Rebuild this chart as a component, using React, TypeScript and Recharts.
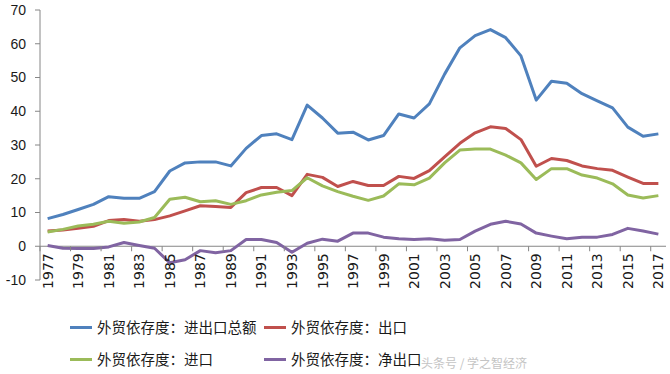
import React from "react";
import { LineChart, Line, XAxis, YAxis, ReferenceLine } from "recharts";

// years 1977-2017
const years = [
  "1977", "1978", "1979", "1980", "1981", "1982", "1983", "1984", "1985", "1986",
  "1987", "1988", "1989", "1990", "1991", "1992", "1993", "1994", "1995", "1996",
  "1997", "1998", "1999", "2000", "2001", "2002", "2003", "2004", "2005", "2006",
  "2007", "2008", "2009", "2010", "2011", "2012", "2013", "2014", "2015", "2016", "2017",
];

const totalTrade = [
  8.2, 9.4, 10.9, 12.4, 14.7, 14.2, 14.2, 16.2, 22.3, 24.7,
  25.0, 25.0, 23.8, 29.0, 32.8, 33.3, 31.6, 41.8, 38.0, 33.5,
  33.8, 31.5, 32.8, 39.2, 38.0, 42.2, 51.0, 58.8, 62.4, 64.2,
  61.8, 56.4, 43.3, 48.9, 48.3, 45.2, 43.1, 41.0, 35.3, 32.6, 33.3,
];

const exportsRatio = [
  4.5, 4.8, 5.3, 5.9, 7.6, 7.9, 7.4, 7.9, 9.0, 10.5,
  12.0, 11.8, 11.5, 15.9, 17.4, 17.4, 15.0, 21.3, 20.4, 17.7,
  19.2, 18.0, 18.0, 20.7, 20.1, 22.4, 26.5, 30.5, 33.6, 35.4,
  34.9, 31.6, 23.7, 26.0, 25.4, 23.8, 23.0, 22.5, 20.5, 18.6, 18.6,
];

const importsRatio = [
  4.2, 5.0, 6.0, 6.5, 7.4, 6.8, 7.2, 8.5, 13.9, 14.5,
  13.2, 13.5, 12.4, 13.5, 15.2, 16.0, 16.5, 20.3, 17.9, 16.2,
  14.8, 13.6, 14.9, 18.5, 18.2, 20.2, 24.7, 28.5, 28.8, 28.8,
  27.0, 24.7, 19.8, 23.0, 23.0, 21.1, 20.2, 18.5, 15.2, 14.3, 15.0,
];

const netExports = [
  0.2, -0.6, -0.7, -0.7, -0.2, 1.1, 0.2, -0.6, -4.9, -4.0,
  -1.3, -1.9, -1.3, 2.0, 2.0, 1.1, -1.8, 0.9, 2.1, 1.5,
  3.9, 3.9, 2.7, 2.2, 2.0, 2.2, 1.8, 2.0, 4.5, 6.5,
  7.4, 6.6, 3.9, 3.0, 2.2, 2.7, 2.7, 3.5, 5.3, 4.5, 3.6,
];

const yTicks = [-10, 0, 10, 20, 30, 40, 50, 60, 70];

const series = [
  { key: "total", name: "外贸依存度：进出口总额", color: "#4F81BD" },
  { key: "exp", name: "外贸依存度：出口", color: "#C0504D" },
  { key: "imp", name: "外贸依存度：进口", color: "#9BBB59" },
  { key: "net", name: "外贸依存度：净出口", color: "#8064A2" },
];

const data = years.map((year, i) => ({
  year,
  total: totalTrade[i],
  exp: exportsRatio[i],
  imp: importsRatio[i],
  net: netExports[i],
}));

const W = 670;
const H = 374;
const MARGIN = { top: 10, right: 4, left: 0, bottom: 64 };
const X_AXIS_H = 30;
const Y_AXIS_W = 40;
const Y_MIN = -10;
const Y_MAX = 70;
const PLOT_W = W - MARGIN.left - MARGIN.right - Y_AXIS_W;
const PLOT_H = H - MARGIN.top - MARGIN.bottom - X_AXIS_H;
const STEP = PLOT_W / years.length;
const ZERO_SHIFT = (PLOT_H * (0 - Y_MIN)) / (Y_MAX - Y_MIN);
const AXIS_COLOR = "#868686";

// x labels hang under the zero line, ticks sit on category boundaries
const XTick = (props: any) => {
  const { x, y, payload } = props;
  const y0 = y - ZERO_SHIFT;
  return (
    <g transform={`translate(${x},${y0})`}>
      <line x1={-STEP / 2} y1={0} x2={-STEP / 2} y2={5} stroke={AXIS_COLOR} strokeWidth={1} />
      <text
        transform="rotate(-90)"
        x={-7}
        y={0}
        dy="0.36em"
        textAnchor="end"
        fill="#1a1a1a"
        fontSize={14}
        fontFamily="DejaVu Sans, sans-serif"
      >
        {payload.value}
      </text>
    </g>
  );
};

export default function App() {
  return (
    <div style={{ position: "absolute", left: 0, top: 0, width: W, height: H, background: "#fff" }}>
      <LineChart width={W} height={H} data={data} margin={MARGIN}>
        <XAxis
          dataKey="year"
          scale="point"
          padding={{ left: STEP / 2, right: STEP / 2 }}
          height={X_AXIS_H}
          interval={1}
          axisLine={false}
          tickLine={false}
          tickSize={0}
          tickMargin={0}
          tick={<XTick />}
        />
        <YAxis
          width={Y_AXIS_W}
          domain={[Y_MIN, Y_MAX]}
          ticks={yTicks}
          interval={0}
          axisLine={{ stroke: AXIS_COLOR }}
          tickLine={{ stroke: AXIS_COLOR }}
          tickSize={5}
          tickMargin={9}
          tick={{ fill: "#1a1a1a", fontSize: 14, fontFamily: "Liberation Sans, Arial, sans-serif" }}
        />
        <ReferenceLine y={0} stroke={AXIS_COLOR} strokeWidth={1} />
        {series.map((s) => (
          <Line
            key={s.key}
            type="linear"
            dataKey={s.key}
            name={s.name}
            stroke={s.color}
            strokeWidth={3}
            strokeLinejoin="round"
            dot={false}
            activeDot={false}
            isAnimationActive={false}
          />
        ))}
      </LineChart>
      {series.map((s, i) => (
        <div
          key={s.key}
          style={{
            position: "absolute",
            left: 70 + (i % 2) * 194,
            top: 316 + Math.floor(i / 2) * 32,
            display: "flex",
            alignItems: "center",
            fontFamily: "Noto Sans CJK SC, sans-serif",
            fontSize: 14.5,
            color: "#1a1a1a",
            whiteSpace: "nowrap",
            lineHeight: "22px",
          }}
        >
          <span style={{ display: "inline-block", width: 22, height: 3, background: s.color, marginRight: 5 }} />
          {s.name}
        </div>
      ))}
      <div
        style={{
          position: "absolute",
          left: 421,
          top: 354,
          fontFamily: "Noto Sans CJK SC, sans-serif",
          fontSize: 12,
          color: "#c4c4c4",
          whiteSpace: "nowrap",
        }}
      >
        头条号 / 学之智经济
      </div>
    </div>
  );
}
